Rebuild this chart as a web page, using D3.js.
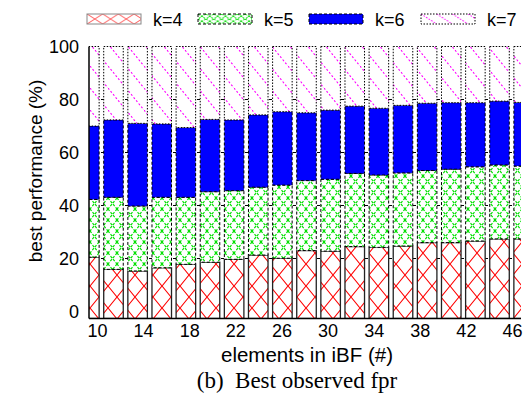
<!DOCTYPE html>
<html><head><meta charset="utf-8">
<script src="https://cdn.jsdelivr.net/npm/d3@7"></script>
<style>body{margin:0;background:#fff;} svg{display:block;}</style>
</head><body>
<svg id="chart" width="525" height="401"></svg>
<script>
// Number of elements inserted in the iBF (one bar per size)
const elements = [10,12,14,16,18,20,22,24,26,28,30,32,34,36,38,40,42,44,46];
// Share (%) of runs where each k gave the best observed fpr
const k4 = [20.5,15.9,15.3,16.5,17.8,18.6,19.7,21.3,20.1,23.0,22.8,24.5,24.2,24.7,26.0,26.0,26.6,27.4,27.4];
const k5 = [21.8,27.2,24.5,26.6,25.3,26.6,25.9,25.6,27.6,26.4,27.1,27.6,27.3,27.6,27.2,27.7,28.0,27.9,27.5];
const k6 = [27.7,29.2,31.2,27.7,26.3,27.3,26.7,27.3,27.7,25.6,26.1,25.4,25.2,25.5,25.4,25.1,24.2,24.1,24.0];
const k7 = [30.0,27.7,29.0,29.2,30.6,27.5,27.7,25.8,24.6,25.0,24.0,22.5,23.3,22.2,21.4,21.2,21.2,20.6,21.1];
const seriesNames = ["k=4","k=5","k=6","k=7"];
const yTicks = [0,20,40,60,80,100];
const xTicks = [10,14,18,22,26,30,34,38,42,46];

const svg = d3.select("#chart");
const font = "'Liberation Sans', Arial, Helvetica, sans-serif";

const plot = {left: 89, right: 521, top: 46.5, bottom: 318.5};

const y = d3.scaleLinear().domain([-2.64, 100]).range([plot.bottom, plot.top]);
const xBand = d3.scaleBand().domain(elements).range([77.3, 535.7])
  .paddingInner(0.19).paddingOuter(0.095);
const xTick = d3.scaleLinear().domain([10, 46]).range([97, 512]);

// fill patterns (bar-sized and legend-sized variants)
const defs = svg.append("defs");
function pat(id, w, h) {
  const p = defs.append("pattern").attr("id", id).attr("patternUnits", "userSpaceOnUse")
    .attr("width", w).attr("height", h);
  p.append("rect").attr("width", w).attr("height", h).attr("fill", "#fff");
  return p;
}
function cross(id, w, h, color, dash, sw) {
  pat(id, w, h).append("path").attr("d", `M0,0L${w},${h}M${w},0L0,${h}`)
    .attr("stroke", color).attr("stroke-width", sw).attr("fill", "none")
    .attr("stroke-dasharray", dash);
}
function slash(id, w, h, color, dash, sw) {
  pat(id, w, h).append("path").attr("d", `M0,0L${w},${h}`)
    .attr("stroke", color).attr("stroke-width", sw).attr("fill", "none")
    .attr("stroke-dasharray", dash);
}
cross("p4", 18, 22, "#ff0000", null, 1.1);
cross("p5", 9, 11, "#00e000", "2.5,1.5", 1.2);
slash("p7", 18, 22, "#ff00ff", "2,2", 1.1);
cross("p4L", 15.7, 10, "#ff6060", null, 1);
cross("p5L", 7.85, 5, "#00e000", "2,1.2", 1);
slash("p7L", 15.7, 10, "#ff00ff", "1.5,1.5", 1);

const styles = [
  {fill: "url(#p4)", legend: "url(#p4L)", dash: null},
  {fill: "url(#p5)", legend: "url(#p5L)", dash: "3,2"},
  {fill: "#0000ff", legend: "#0000ff", dash: "3,2"},
  {fill: "url(#p7)", legend: "url(#p7L)", dash: "1.5,1.5"}
];

defs.append("clipPath").attr("id", "clip").append("rect")
  .attr("x", plot.left).attr("y", 0).attr("width", plot.right - plot.left).attr("height", plot.bottom);

// dashed grid behind the bars
svg.append("g").selectAll("line").data(yTicks.slice(1, -1)).join("line")
  .attr("x1", plot.left).attr("x2", plot.right)
  .attr("y1", d => y(d)).attr("y2", d => y(d))
  .attr("stroke", "#000").attr("stroke-width", 1).attr("stroke-dasharray", "3,3");

// stacked bars
const rows = elements.map((e, i) => ({e, "k=4": k4[i], "k=5": k5[i], "k=6": k6[i], "k=7": k7[i]}));
const stacked = d3.stack().keys(seriesNames)(rows);
const barsG = svg.append("g").attr("clip-path", "url(#clip)");
stacked.forEach((layer, li) => {
  barsG.append("g").selectAll("rect").data(layer).join("rect")
    .attr("x", d => xBand(d.data.e))
    .attr("width", xBand.bandwidth())
    .attr("y", d => y(d[1]))
    .attr("height", d => (d[0] === 0 ? plot.bottom : y(d[0])) - y(d[1]))
    .attr("fill", styles[li].fill)
    .attr("stroke", li === 0 ? "#222" : "#000").attr("stroke-width", li === 0 ? 1.3 : 1)
    .attr("stroke-dasharray", styles[li].dash);
});

// axes lines
svg.append("line").attr("x1", plot.left).attr("x2", plot.left).attr("y1", plot.top).attr("y2", plot.bottom)
  .attr("stroke", "#000").attr("stroke-width", 1.5);
svg.append("line").attr("x1", plot.left).attr("x2", plot.right).attr("y1", plot.bottom).attr("y2", plot.bottom)
  .attr("stroke", "#000").attr("stroke-width", 1.5);

// tick labels
const yAxis = svg.append("g").attr("transform", `translate(${plot.left},0)`)
  .call(d3.axisLeft(y).tickValues(yTicks).tickSize(0).tickPadding(10));
yAxis.select(".domain").remove();
yAxis.selectAll("text").attr("font-family", font).attr("font-size", 18).attr("fill", "#000");

const xAxis = svg.append("g").attr("transform", `translate(0,${plot.bottom})`)
  .call(d3.axisBottom(xTick).tickValues(xTicks).tickSize(0).tickPadding(6));
xAxis.select(".domain").remove();
xAxis.selectAll("text").attr("font-family", font).attr("font-size", 18).attr("fill", "#000");

// axis titles
svg.append("text").attr("transform", "translate(42,171) rotate(-90)")
  .attr("text-anchor", "middle").attr("font-family", font).attr("font-size", 19)
  .text("best performance (%)");
svg.append("text").attr("x", 307).attr("y", 362).attr("text-anchor", "middle")
  .attr("font-family", font).attr("font-size", 20.5).text("elements in iBF (#)");
svg.append("text").attr("x", 297).attr("y", 388).attr("text-anchor", "middle")
  .attr("font-family", "'Liberation Serif', 'Times New Roman', serif").attr("font-size", 23)
  .attr("xml:space", "preserve").style("white-space", "pre").text("(b)  Best observed fpr");

// legend
const legendX = [87, 198, 309, 421];
const lg = svg.append("g").selectAll("g").data(seriesNames).join("g")
  .attr("transform", (d, i) => `translate(${legendX[i]},14)`);
lg.append("rect").attr("width", 54).attr("height", 10)
  .attr("fill", (d, i) => styles[i].legend)
  .attr("stroke", (d, i) => i === 0 ? "#888" : "#000").attr("stroke-width", 1)
  .attr("stroke-dasharray", (d, i) => styles[i].dash);
lg.append("text").attr("x", 66).attr("y", 11.5).attr("font-family", font).attr("font-size", 18)
  .text(d => d);
</script>
</body></html>
